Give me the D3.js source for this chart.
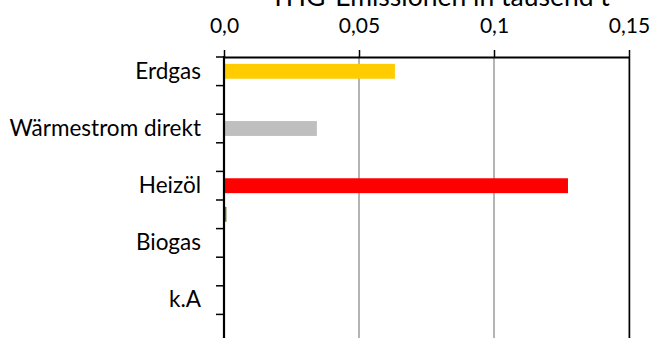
<!DOCTYPE html>
<html>
<head>
<meta charset="utf-8">
<script src="https://cdn.jsdelivr.net/npm/d3@7"></script>
<style>
  html, body { margin: 0; padding: 0; background: #fff; }
  svg { display: block; font-family: Lato, "Open Sans", sans-serif; }
</style>
</head>
<body>
<svg id="chart" width="654" height="338"></svg>
<script>
// Category slots on the vertical axis (labels on every second slot)
const slotLabels = ["Erdgas", "", "Wärmestrom direkt", "", "Heizöl", "", "Biogas", "", "k.A", ""];
// Emissions per slot in thousand tonnes
const slotValues = [0.0633, 0, 0.0344, 0, 0.1274, 0.0009, 0, 0, 0, 0];
const slotColors = ["#FFCC00", null, "#BFBFBF", null, "#FF0000", "#548235", null, null, null, null];
// Value axis
const xTicks = [0, 0.05, 0.1, 0.15];
const xTickLabels = ["0,0", "0,05", "0,1", "0,15"];
const title = "THG-Emissionen in tausend t";

(function draw() {
  const svg = d3.select("#chart");
  const plotLeft = 224, plotRight = 629, plotTop = 57, plotBottom = 343, viewBottom = 338;

  const x = d3.scaleLinear().domain([0, 0.15]).range([plotLeft, plotRight]);
  const y = d3.scaleBand().domain(d3.range(slotLabels.length)).range([plotTop, plotBottom]).padding(0);
  const barH = y.step() * 0.52;

  // vertical gridlines
  svg.append("g").selectAll("line")
    .data(xTicks.slice(1))
    .join("line")
    .attr("x1", d => x(d)).attr("x2", d => x(d))
    .attr("y1", plotTop).attr("y2", viewBottom)
    .attr("stroke", "#8c8c8c").attr("stroke-width", 1.3);

  // right border of the plot
  svg.append("line")
    .attr("x1", x(0.15) + 0.5).attr("x2", x(0.15) + 0.5)
    .attr("y1", plotTop).attr("y2", viewBottom)
    .attr("stroke", "#000").attr("stroke-width", 1.5);

  // bars
  svg.append("g").selectAll("rect")
    .data(slotValues.map((v, i) => ({ v, i })).filter(d => d.v > 0))
    .join("rect")
    .attr("x", x(0))
    .attr("y", d => y(d.i) + (y.step() - barH) / 2)
    .attr("width", d => x(d.v) - x(0))
    .attr("height", barH)
    .attr("fill", d => slotColors[d.i]);

  // top value axis
  const xAxis = svg.append("g")
    .attr("transform", `translate(0,${plotTop})`)
    .call(d3.axisTop(x).tickValues(xTicks)
      .tickFormat((d, i) => xTickLabels[i])
      .tickSize(7).tickSizeOuter(0).tickPadding(17));
  xAxis.select(".domain").attr("stroke", "#000").attr("stroke-width", 2.2);
  xAxis.selectAll(".tick line").attr("stroke", "#000").attr("stroke-width", 1.5);
  xAxis.selectAll(".tick text")
    .attr("font-size", 21).attr("fill", "#000")
    .attr("font-family", "Lato, 'Open Sans', sans-serif");

  // left category axis: labels at slot centres
  const yAxis = svg.append("g")
    .attr("transform", `translate(${plotLeft},0)`)
    .call(d3.axisLeft(y).tickFormat(i => slotLabels[i]).tickSize(0).tickPadding(23));
  yAxis.select(".domain").remove();
  yAxis.selectAll(".tick text")
    .attr("font-size", 22.5).attr("fill", "#000")
    .attr("font-family", "Lato, 'Open Sans', sans-serif");

  // tick marks at slot boundaries
  const bounds = d3.range(slotLabels.length + 1).map(i => plotTop + i * y.step());
  svg.append("g").selectAll("line")
    .data(bounds)
    .join("line")
    .attr("x1", plotLeft - 8).attr("x2", plotLeft)
    .attr("y1", d => d).attr("y2", d => d)
    .attr("stroke", "#000").attr("stroke-width", 1.5);

  // left axis line
  svg.append("line")
    .attr("x1", plotLeft).attr("x2", plotLeft)
    .attr("y1", plotTop - 1).attr("y2", viewBottom)
    .attr("stroke", "#000").attr("stroke-width", 2.2);

  // title (its upper part runs past the top edge)
  svg.append("text")
    .attr("x", 440).attr("y", 6)
    .attr("text-anchor", "middle")
    .attr("font-size", 26.5).attr("fill", "#000")
    .text(title);
})();
</script>
</body>
</html>
